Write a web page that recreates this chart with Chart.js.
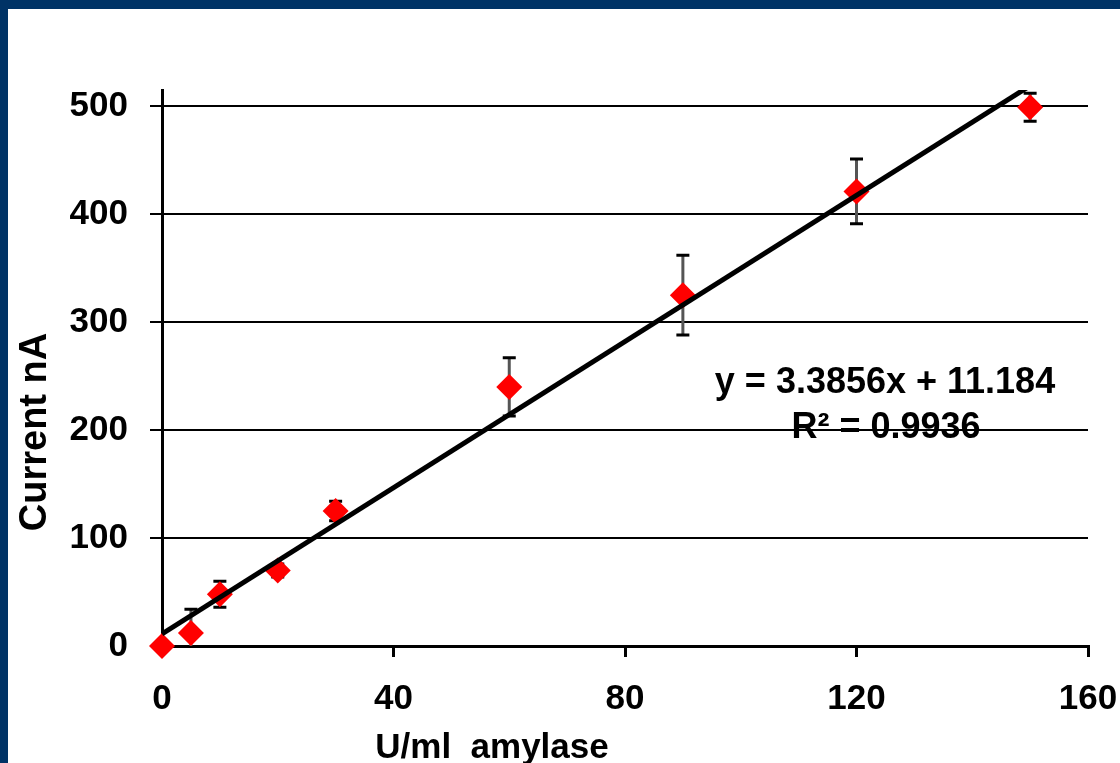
<!DOCTYPE html>
<html>
<head>
<meta charset="utf-8">
<script src="https://cdn.jsdelivr.net/npm/chart.js@4.4.1/dist/chart.umd.min.js"></script>
<style>
  html, body { margin: 0; padding: 0; background: #003366; width: 1120px; height: 763px; overflow: hidden; }
  #frame { position: absolute; left: 8px; top: 9px; width: 1112px; height: 754px; background: #fff; }
</style>
</head>
<body>
<div id="frame"><canvas id="amylaseChart"></canvas></div>
<script>
// U/ml amylase vs measured current (nA), with error bars
const concentration = [0, 5, 10, 20, 30, 60, 90, 120, 150];
const current = [0, 12, 48, 70, 125, 240, 325, 421, 499];
const errors = [0, 22, 12, 6, 9, 27, 37, 30, 13];

// linear trend line ends, read at x = 0 and x = 150
const trendX = [0, 150];
const trendY = [11.2, 519];

const xTicks = [0, 40, 80, 120, 160];
const yTicks = [0, 100, 200, 300, 400, 500];

const equationLines = ['y = 3.3856x + 11.184', 'R\u00B2 = 0.9936'];

const font = "'Liberation Sans', Arial, sans-serif";

const errorBars = {
    id: 'errorBars',
    beforeDatasetsDraw(chart) {
        const ctx = chart.ctx;
        const xs = chart.scales.x, ys = chart.scales.y;
        const area = chart.chartArea;
        ctx.save();
        ctx.beginPath();
        ctx.rect(area.left, area.top, area.right - area.left, area.bottom - area.top);
        ctx.clip();
        concentration.forEach(function(c, i) {
            if (!errors[i]) return;
            const px = xs.getPixelForValue(c);
            const top = ys.getPixelForValue(current[i] + errors[i]);
            const bot = ys.getPixelForValue(current[i] - errors[i]);
            ctx.strokeStyle = '#555';
            ctx.lineWidth = 3;
            ctx.beginPath();
            ctx.moveTo(px, top);
            ctx.lineTo(px, bot);
            ctx.stroke();
            ctx.strokeStyle = '#000';
            ctx.beginPath();
            ctx.moveTo(px - 6.5, top); ctx.lineTo(px + 6.5, top);
            ctx.moveTo(px - 6.5, bot); ctx.lineTo(px + 6.5, bot);
            ctx.stroke();
        });
        ctx.restore();
    }
};

const extraText = {
    id: 'extraText',
    afterDraw(chart) {
        const ctx = chart.ctx;
        const area = chart.chartArea;
        ctx.save();
        ctx.fillStyle = '#000';
        ctx.textAlign = 'center';
        ctx.textBaseline = 'middle';
        ctx.font = 'bold 36px ' + font;
        ctx.fillText(equationLines[0], area.left + 723, area.top + 293);
        ctx.fillText(equationLines[1], area.left + 724, area.top + 338);
        // axis titles
        ctx.font = 'bold 35px ' + font;
        ctx.fillText('U/ml  amylase', area.left + 330, area.bottom + 102);
        ctx.translate(28, area.top + 342);
        ctx.rotate(-Math.PI / 2);
        ctx.font = 'bold 38px ' + font;
        ctx.fillText('Current nA', 0, 0);
        ctx.restore();
    }
};

document.addEventListener('DOMContentLoaded', function() {
    const ctx = document.getElementById('amylaseChart').getContext('2d');
    new Chart(ctx, {
        type: 'scatter',
        data: {
            datasets: [{
                type: 'line',
                label: 'Trend',
                data: trendX.map(function(x, i) { return { x: x, y: trendY[i] }; }),
                borderColor: '#000',
                borderWidth: 5,
                pointRadius: 0,
                clip: 0
            }, {
                label: 'Current',
                data: concentration.map(function(c, i) { return { x: c, y: current[i] }; }),
                pointStyle: 'rectRot',
                pointRadius: 13,
                backgroundColor: '#ff0000',
                borderColor: '#ff0000',
                borderWidth: 0,
                clip: false
            }]
        },
        options: {
            responsive: true,
            maintainAspectRatio: false,
            animation: false,
            layout: { padding: { top: 81, right: 32, left: 0, bottom: 0 } },
            plugins: {
                legend: { display: false },
                tooltip: { enabled: false }
            },
            scales: {
                x: {
                    type: 'linear',
                    min: 0,
                    max: 160,
                    afterFit: function(s) { s.height = 117; s.paddingRight = 0; s.paddingLeft = 0; },
                    afterBuildTicks: function(s) { s.ticks = xTicks.map(function(v) { return { value: v }; }); },
                    border: { display: true, color: '#000', width: 3 },
                    grid: { drawOnChartArea: false, drawTicks: true, tickLength: 11, color: '#000', lineWidth: 3 },
                    ticks: { color: '#000', padding: 21, maxRotation: 0, font: { family: font, size: 35, weight: 'bold' } }
                },
                y: {
                    type: 'linear',
                    min: 0,
                    max: 515,
                    afterFit: function(s) { s.width = 154; s.paddingTop = 0; s.paddingBottom = 0; },
                    afterBuildTicks: function(s) { s.ticks = yTicks.map(function(v) { return { value: v }; }); },
                    border: { display: true, color: '#000', width: 3 },
                    grid: { color: '#000', lineWidth: 2, tickLength: 12, drawTicks: true },
                    ticks: { color: '#000', padding: 22, font: { family: font, size: 35, weight: 'bold' } }
                }
            }
        },
        plugins: [errorBars, extraText]
    });
});
</script>
</body>
</html>
